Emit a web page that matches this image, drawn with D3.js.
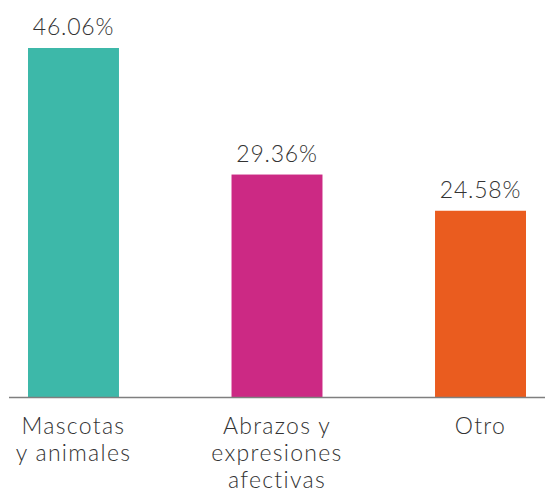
<!doctype html>
<html lang="es">
<head>
<meta charset="utf-8">
<title>Bar chart</title>
<script src="https://d3js.org/d3.v7.min.js"></script>
<style>
  body { margin: 0; background: #fff; }
  text { font-family: Lato, "Open Sans", sans-serif; font-weight: 300; fill: #333; }
</style>
</head>
<body>
<div class="chart"></div>
<script>
  // data
  const categories = ["Mascotas y animales", "Abrazos y expresiones afectivas", "Otro"];
  const labelLines = [["Mascotas", "y animales"], ["Abrazos y", "expresiones", "afectivas"], ["Otro"]];
  const values = [46.06, 29.36, 24.58];
  const colors = ["#3db8a9", "#cc2984", "#ea5c1f"];

  const w = 545, h = 494;
  const baseY = 397;

  let svg = d3.select(".chart").append("svg")
    .attr("width", w)
    .attr("height", h);

  let x = d3.scaleBand()
    .domain(categories)
    .range([28, 526])
    .paddingInner(0.553)
    .paddingOuter(0);

  let y = d3.scaleLinear()
    .domain([0, d3.max(values)])
    .range([baseY, 48]);

  svg.selectAll("rect.bar")
    .data(categories)
    .enter()
    .append("rect")
    .attr("class", "bar")
    .attr("x", d => x(d))
    .attr("width", x.bandwidth())
    .attr("y", (d, i) => y(values[i]))
    .attr("height", (d, i) => baseY - y(values[i]))
    .attr("fill", (d, i) => colors[i]);

  // baseline
  svg.append("line")
    .attr("x1", 9).attr("x2", w)
    .attr("y1", baseY + 0.5).attr("y2", baseY + 0.5)
    .attr("stroke", "#7f7f7f")
    .attr("stroke-width", 1.5);

  // value labels
  svg.selectAll("text.val")
    .data(categories)
    .enter()
    .append("text")
    .attr("class", "val")
    .attr("x", d => x(d) + x.bandwidth() / 2)
    .attr("y", (d, i) => y(values[i]) - 13)
    .attr("text-anchor", "middle")
    .style("font-size", "23px")
    .style("letter-spacing", "0.8px")
    .text((d, i) => values[i].toFixed(2) + "%");

  // category labels
  let cats = svg.selectAll("text.cat")
    .data(categories)
    .enter()
    .append("text")
    .attr("class", "cat")
    .attr("text-anchor", "middle")
    .style("font-size", "23px")
    .style("letter-spacing", "1.3px")
    .attr("x", d => x(d) + x.bandwidth() / 2)
    .attr("y", 434);

  cats.each(function (d, i) {
    let t = d3.select(this);
    labelLines[i].forEach((line, j) => {
      t.append("tspan")
        .attr("x", x(d) + x.bandwidth() / 2)
        .attr("dy", j === 0 ? 0 : 27)
        .text(line);
    });
  });
</script>
</body>
</html>
